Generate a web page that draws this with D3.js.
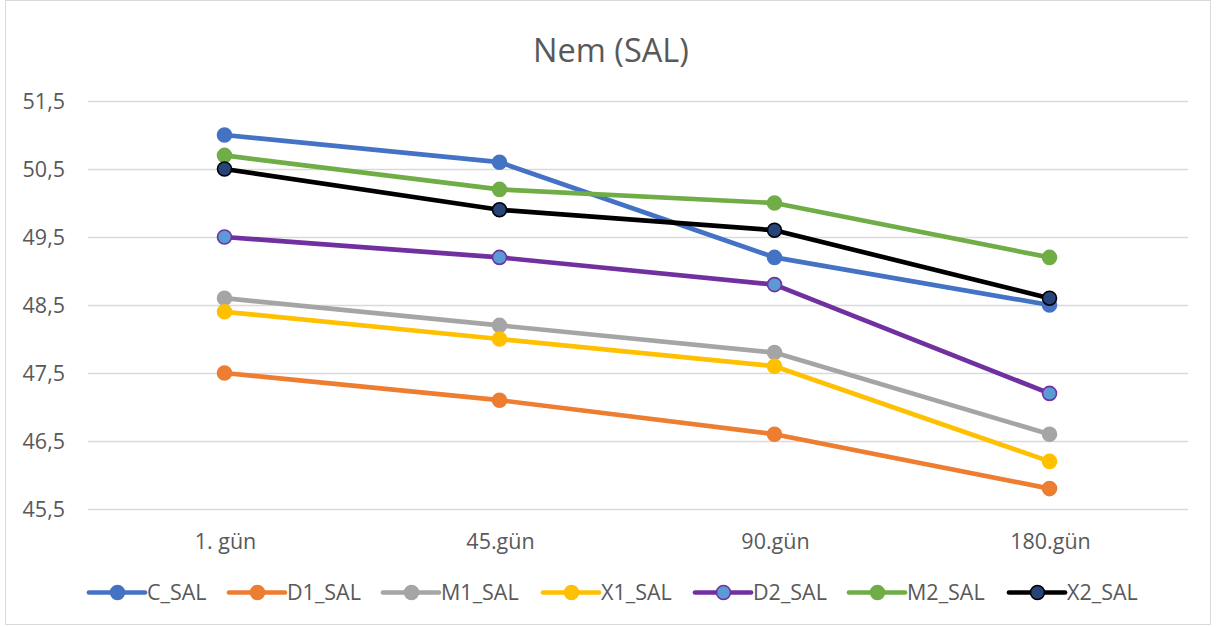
<!DOCTYPE html>
<html><head><meta charset="utf-8">
<script src="https://cdn.jsdelivr.net/npm/d3@7"></script>
<style>body{margin:0;background:#fff}</style>
</head><body>
<svg id="c" width="1216" height="627"></svg>
<script>
const categories = ["1. gün", "45.gün", "90.gün", "180.gün"];
const seriesNames = ["C_SAL", "D1_SAL", "M1_SAL", "X1_SAL", "D2_SAL", "M2_SAL", "X2_SAL"];
const C_SAL  = [51.0, 50.6, 49.2, 48.5];
const D1_SAL = [47.5, 47.1, 46.6, 45.8];
const M1_SAL = [48.6, 48.2, 47.8, 46.6];
const X1_SAL = [48.4, 48.0, 47.6, 46.2];
const D2_SAL = [49.5, 49.2, 48.8, 47.2];
const M2_SAL = [50.7, 50.2, 50.0, 49.2];
const X2_SAL = [50.5, 49.9, 49.6, 48.6];
const yTicks = [45.5, 46.5, 47.5, 48.5, 49.5, 50.5, 51.5];
const lineColors = ["#4472C4", "#ED7D31", "#A5A5A5", "#FFC000", "#7030A0", "#70AD47", "#000000"];
const markerFills = ["#4472C4", "#ED7D31", "#A5A5A5", "#FFC000", "#5B9BD5", "#70AD47", "#264478"];
const allValues = [C_SAL, D1_SAL, M1_SAL, X1_SAL, D2_SAL, M2_SAL, X2_SAL];

const svg = d3.select("#c");
const font = "'Open Sans', 'Liberation Sans', sans-serif";
svg.append("rect").attr("x", 5.5).attr("y", 0.5).attr("width", 1205).attr("height", 624)
  .attr("fill", "#fff").attr("stroke", "#D9D9D9");

const x = d3.scaleBand().domain(categories).range([88, 1188]);
const y = d3.scaleLinear().domain([45.5, 51.5]).range([509, 101]);

svg.append("text").attr("x", 611).attr("y", 62).attr("text-anchor", "middle")
  .attr("font-family", font).attr("font-size", 32.5).attr("fill", "#595959").text("Nem (SAL)");

// gridlines
svg.append("g").selectAll("line").data(yTicks).join("line")
  .attr("x1", 88).attr("x2", 1188).attr("y1", d => Math.round(y(d)) + 0.5).attr("y2", d => Math.round(y(d)) + 0.5)
  .attr("stroke", "#D9D9D9").attr("stroke-width", 1.3);

// y axis labels
const yAxis = d3.axisLeft(y).tickValues(yTicks).tickSize(0).tickPadding(0)
  .tickFormat(d => d3.format(".1f")(d).replace(".", ","));
const gy = svg.append("g").attr("transform", "translate(65,1)").call(yAxis);
gy.select(".domain").remove();
gy.selectAll("text").attr("font-family", font).attr("font-size", 21.5).attr("fill", "#595959");

// x axis labels
const xAxis = d3.axisBottom(x).tickSize(0).tickPadding(0);
const gx = svg.append("g").attr("transform", "translate(0,533.5)").call(xAxis);
gx.select(".domain").remove();
gx.selectAll("text").attr("font-family", font).attr("font-size", 21.5).attr("fill", "#595959");

const line = d3.line().x((d, i) => x(categories[i]) + x.bandwidth() / 2 - 1).y(d => y(d));

allValues.forEach((vals, s) => {
  const g = svg.append("g");
  g.append("path").datum(vals).attr("d", line).attr("fill", "none")
    .attr("stroke", lineColors[s]).attr("stroke-width", 4.7).attr("stroke-linejoin", "round").attr("stroke-linecap", "round");
  g.selectAll("circle").data(vals).join("circle")
    .attr("cx", (d, i) => x(categories[i]) + x.bandwidth() / 2 - 1).attr("cy", d => y(d)).attr("r", 7)
    .attr("fill", markerFills[s]).attr("stroke", lineColors[s]).attr("stroke-width", 1.6);
});

// legend
const legX = [89, 229, 383, 543, 695, 849, 1009];
seriesNames.forEach((name, s) => {
  const g = svg.append("g").attr("transform", `translate(${legX[s]},592.5)`);
  g.append("line").attr("x1", 0).attr("x2", 56).attr("y1", 0).attr("y2", 0)
    .attr("stroke", lineColors[s]).attr("stroke-width", 4.7).attr("stroke-linecap", "round");
  g.append("circle").attr("cx", 28.5).attr("cy", 0).attr("r", 7)
    .attr("fill", markerFills[s]).attr("stroke", lineColors[s]).attr("stroke-width", 1.6);
  g.append("text").attr("x", 58).attr("y", 0).attr("dy", "0.35em")
    .attr("font-family", font).attr("font-size", 21.5).attr("fill", "#595959").text(name);
});
</script>
</body></html>
